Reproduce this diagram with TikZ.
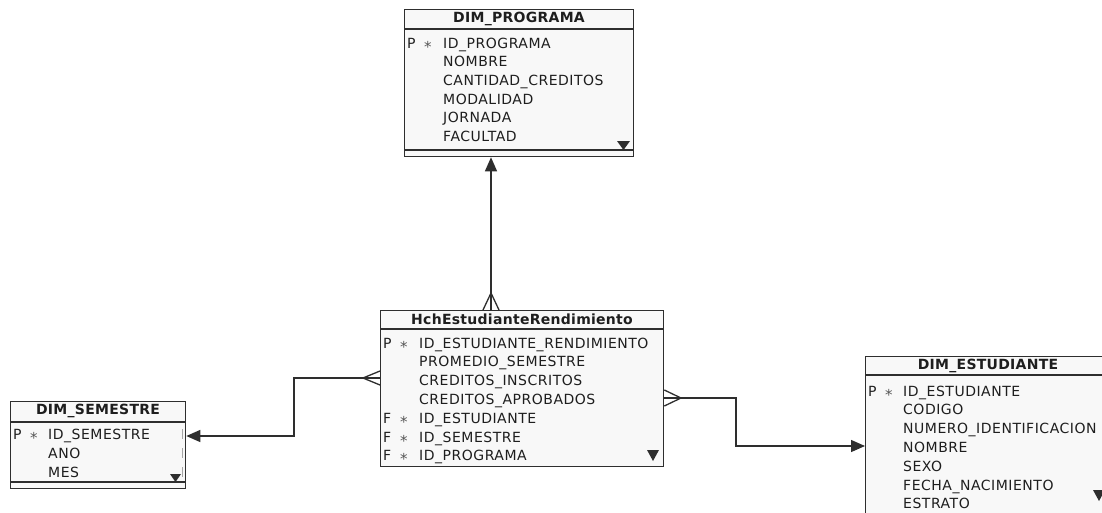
\documentclass[tikz,border=0pt]{standalone}
\usepackage{fontspec}
\setmainfont{DejaVu Sans}
\newfontfamily\bodyfnt[LetterSpace=3.7]{DejaVu Sans}
\newfontfamily\titlefnt[LetterSpace=2]{DejaVu Sans}
\usetikzlibrary{arrows.meta,calc}
\definecolor{boxfill}{HTML}{F8F8F8}
\definecolor{edgec}{HTML}{2E2E2E}
\definecolor{txt}{HTML}{1E1E1E}
\tikzset{
  tbl/.style={draw=edgec, fill=boxfill, line width=1.3pt, inner sep=0pt, anchor=north west},
  sepline/.style={draw=edgec, line width=1.2pt},
  ttl/.style={font=\titlefnt\bfseries\fontsize{14}{15}\selectfont, text=txt, inner sep=0pt},
  fld/.style={font=\bodyfnt\fontsize{14}{15}\selectfont, text=txt, inner sep=0pt, anchor=base west},
  star/.style={font=\fontsize{15}{16}\selectfont, text=txt!75, inner sep=0pt, anchor=base west},
  conn/.style={draw=edgec, line width=1.3pt},
  tipend/.style={-{Triangle[length=14pt,width=12pt]}},
  moremark/.style={fill=edgec},
}
\begin{document}
\begin{tikzpicture}[x=1pt,y=-1pt]
\useasboundingbox (0,0) rectangle (1102,512);
\clip (0,0) rectangle (1102,512);
\fill[white] (0,0) rectangle (1102,512);

% ---------- DIM_PROGRAMA ----------
\node[tbl, minimum width=229pt, minimum height=147pt] (prog) at (404,9) {};
\draw[sepline] (404,29) -- (633,29);
\draw[sepline] (404,150) -- (633,150);
\node[ttl] (progT) at (519,18.5) {DIM\_PROGRAMA};
\node[fld] (progP) at (407,48) {P};
\node[star] (progS) at (424,52) {*};
\foreach \t [count=\i from 0] in {ID\_PROGRAMA,NOMBRE,CANTIDAD\_CREDITOS,MODALIDAD,JORNADA,FACULTAD}
  \node[fld] (prog-\i) at (443,48+18.7*\i) {\t};
\fill[moremark] (617,141) -- (630,141) -- (623.5,150) -- cycle;

% ---------- HchEstudianteRendimiento ----------
\node[tbl, minimum width=283pt, minimum height=156pt] (hch) at (380,310) {};
\draw[sepline] (380,329) -- (663,329);
\node[ttl] (hchT) at (522,319) {HchEstudianteRendimiento};
\foreach \k/\i in {P/0,F/4,F/5,F/6}{
  \node[fld] (hchK-\i) at (383,348+18.8*\i) {\k};
  \node[star] (hchS-\i) at (400,352+18.8*\i) {*};
}
\foreach \t [count=\i from 0] in {ID\_ESTUDIANTE\_RENDIMIENTO,PROMEDIO\_SEMESTRE,CREDITOS\_INSCRITOS,CREDITOS\_APROBADOS,ID\_ESTUDIANTE,ID\_SEMESTRE,ID\_PROGRAMA}
  \node[fld] (hch-\i) at (419,348+18.8*\i) {\t};
\fill[moremark] (647,450) -- (659,450) -- (653,461) -- cycle;

% ---------- DIM_SEMESTRE ----------
\node[tbl, minimum width=175pt, minimum height=87pt] (sem) at (10,401) {};
\draw[sepline] (10,422) -- (185,422);
\draw[sepline] (10,482) -- (185,482);
\node[ttl] (semT) at (98,411) {DIM\_SEMESTRE};
\node[fld] (semP) at (13,439) {P};
\node[star] (semS) at (30,443) {*};
\foreach \t [count=\i from 0] in {ID\_SEMESTRE,ANO,MES}
  \node[fld] (sem-\i) at (48,439+19*\i) {\t};
\foreach \i in {0,1,2}
  \draw[gray!70, line width=1pt] (182.5,429+19*\i) -- (182.5,439+19*\i);
\fill[moremark] (170,474) -- (181,474) -- (175.5,482) -- cycle;

% ---------- DIM_ESTUDIANTE ----------
\node[tbl, minimum width=260pt, minimum height=170pt] (est) at (865,356) {};
\draw[sepline] (865,375) -- (1125,375);
\node[ttl] (estT) at (988,365.5) {DIM\_ESTUDIANTE};
\node[fld] (estP) at (868,396) {P};
\node[star] (estS) at (885,400) {*};
\foreach \t [count=\i from 0] in {ID\_ESTUDIANTE,CODIGO,NUMERO\_IDENTIFICACION,NOMBRE,SEXO,FECHA\_NACIMIENTO,ESTRATO}
  \node[fld] (est-\i) at (903,396+18.8*\i) {\t};
\fill[moremark] (1093,490) -- (1105,490) -- (1099,501) -- cycle;

% ---------- connectors ----------
% Hch -> DIM_PROGRAMA
\coordinate (apxP) at (491,293);
\draw[conn] ($(apxP |- hch.north)+(-8,0)$) -- (apxP) -- ($(apxP |- hch.north)+(8,0)$);
\draw[conn] (apxP |- hch.north) -- (apxP);
\draw[conn,tipend] (apxP) -- (apxP |- prog.south);

% Hch -> DIM_SEMESTRE
\coordinate (apxS) at (363,378);
\coordinate (kS) at (294,436);
\draw[conn] ($(apxS -| hch.west)+(0,-7)$) -- (apxS) -- ($(apxS -| hch.west)+(0,7)$);
\draw[conn] (apxS -| hch.west) -- (apxS);
\draw[conn,tipend] (apxS) -| (kS) -- (kS -| sem.east);

% Hch -> DIM_ESTUDIANTE
\coordinate (apxE) at (681,398);
\coordinate (kE) at (736,446);
\draw[conn] ($(apxE -| hch.east)+(0,-8)$) -- (apxE) -- ($(apxE -| hch.east)+(0,8)$);
\draw[conn] (apxE -| hch.east) -- (apxE);
\draw[conn,tipend] (apxE) -| (kE) -- (kE -| est.west);
\end{tikzpicture}
\end{document}
